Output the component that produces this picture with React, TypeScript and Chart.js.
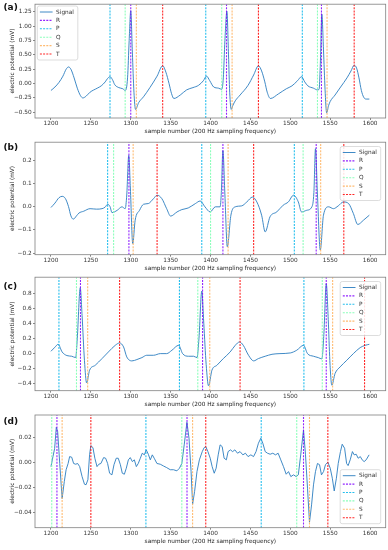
import React, { useEffect, useRef } from 'react';
import { Chart, registerables } from 'chart.js';

Chart.register(...registerables);

const FONT_FAMILY = "'DejaVu Sans', sans-serif";
const X_LABEL = 'sample number (200 Hz sampling frequency)';
const Y_LABEL = 'electric potential (mV)';
const xTickValues = [1200, 1250, 1300, 1350, 1400, 1450, 1500, 1550, 1600];
const markNames = ['R', 'P', 'Q', 'S', 'T'];
const markColors = ['rgba(128,0,255,0.85)', 'rgba(0,180,235,0.85)', 'rgba(128,255,180,0.9)', 'rgba(255,180,98,0.9)', 'rgba(255,0,0,0.85)'];
const signalColor = '#2a7dbf';

// ---------- panel (a) ----------
const aSamples = [1200, 1205, 1210, 1215, 1219, 1222, 1225, 1229, 1233, 1237, 1240, 1244, 1249, 1258, 1263, 1268, 1271, 1274, 1277, 1280, 1285, 1290, 1293, 1296, 1298, 1300, 1302, 1304, 1306, 1310, 1316, 1324, 1333, 1340, 1344, 1348, 1351, 1354, 1362, 1370, 1378, 1385, 1391, 1395, 1399, 1404, 1410, 1414, 1416, 1418, 1420.5, 1422.5, 1424, 1426, 1428, 1431, 1437, 1447, 1454, 1460, 1464, 1468, 1471, 1475, 1485, 1495, 1502, 1509, 1514, 1518, 1522, 1529, 1534, 1536, 1537.5, 1539.5, 1541.5, 1543.5, 1545.5, 1548, 1550, 1556, 1563, 1571, 1576, 1580, 1583, 1586, 1589, 1592, 1595, 1599];
const aSignal = [-0.12, -0.06, 0.02, 0.13, 0.25, 0.29, 0.25, 0.10, -0.08, -0.21, -0.25, -0.22, -0.15, -0.08, -0.04, 0.03, 0.09, 0.12, 0.07, -0.02, -0.07, -0.09, -0.12, 0.10, 0.75, 1.27, 0.55, -0.15, -0.45, -0.33, -0.23, -0.07, 0.13, 0.31, 0.2, 0.0, -0.17, -0.26, -0.2, -0.11, -0.07, -0.03, 0.05, 0.13, 0.05, -0.06, -0.08, -0.1, 0.1, 0.75, 1.26, 0.5, -0.15, -0.45, -0.38, -0.3, -0.2, -0.03, 0.15, 0.31, 0.22, 0.03, -0.15, -0.26, -0.18, -0.09, -0.04, 0.05, 0.12, 0.03, -0.04, -0.08, -0.11, -0.1, 0.3, 1.21, 0.6, -0.1, -0.51, -0.38, -0.31, -0.2, -0.06, 0.1, 0.22, 0.32, 0.27, 0.1, -0.12, -0.24, -0.27, -0.27];
const aR = [1300, 1420, 1539];
const aP = [1274, 1394, 1515];
const aQ = [1293, 1414, 1534];
const aS = [1307, 1427, 1546];
const aT = [1340, 1460, 1580];
const aYTicks = [-0.5, -0.25, 0, 0.25, 0.5, 0.75, 1.0, 1.25];

// ---------- panel (b) ----------
const bSamples = [1200, 1205, 1210, 1214, 1218, 1222, 1225, 1228, 1232, 1235, 1241, 1249, 1257, 1264, 1268, 1271, 1274, 1276.5, 1283, 1289, 1293, 1295, 1297.5, 1299.5, 1302.5, 1305.5, 1311, 1316, 1322, 1328.5, 1333, 1339, 1345, 1350, 1358, 1364, 1372, 1381, 1387, 1393, 1399.5, 1406, 1412, 1413.5, 1415.5, 1418, 1421, 1425.5, 1431, 1439, 1445.5, 1452.5, 1458, 1464, 1468.5, 1474.5, 1483, 1491, 1497.5, 1504, 1510, 1514, 1520.5, 1527, 1529.5, 1531.5, 1534, 1537.5, 1541.5, 1548, 1554, 1560, 1566.5, 1573, 1579, 1584.5, 1591.5, 1599];
const bSignal = [-0.004, 0.015, 0.038, 0.044, 0.035, 0.0, -0.04, -0.054, -0.04, -0.028, -0.02, -0.009, -0.011, -0.009, -0.002, 0.01, 0.0, -0.026, -0.016, -0.001, -0.009, 0.05, 0.22, 0.08, -0.159, -0.059, -0.016, 0.01, 0.013, 0.034, 0.049, 0.034, -0.009, -0.041, -0.023, -0.013, -0.006, 0.013, 0.024, -0.001, -0.023, -0.001, -0.001, 0.06, 0.241, 0.05, -0.173, -0.037, -0.001, 0.003, 0.02, 0.041, 0.02, -0.037, -0.109, -0.044, -0.023, 0.006, 0.02, 0.049, 0.02, -0.023, -0.016, -0.001, 0.06, 0.249, 0.05, -0.187, -0.037, -0.001, -0.009, 0.003, 0.02, 0.013, -0.03, -0.077, -0.059, -0.037];
const bR = [1297.7, 1415.5, 1532.4];
const bP = [1271, 1389, 1505];
const bQ = [1278.5, 1400, 1516];
const bS = [1303, 1422, 1538];
const bT = [1333, 1454, 1567];
const bYTicks = [-0.2, -0.1, 0, 0.1, 0.2];

// ---------- panel (c) ----------
const cSamples = [1200, 1205, 1209, 1214, 1220, 1226, 1231, 1233, 1236.7, 1239, 1242, 1244.7, 1248.4, 1255.5, 1264, 1272, 1280.6, 1286, 1291, 1295, 1301.5, 1307.7, 1314, 1320, 1328.6, 1337, 1345, 1351.6, 1360, 1365, 1372.4, 1378.7, 1383, 1385.5, 1389, 1391.5, 1394.5, 1397.5, 1401.7, 1408, 1416, 1424.6, 1431, 1436.3, 1441, 1447.6, 1454, 1460, 1468.5, 1477, 1487, 1500, 1508, 1516.5, 1521.5, 1529, 1535, 1539.5, 1542, 1545, 1547.5, 1549.5, 1552, 1556, 1562.4, 1570.8, 1579, 1587.5, 1594, 1599];
const cSignal = [0.025, 0.08, 0.118, 0.016, -0.032, -0.041, -0.059, 0.2, 0.871, 0.5, -0.1, -0.396, -0.228, -0.161, -0.072, 0.016, 0.105, 0.136, 0.083, -0.05, -0.103, -0.085, -0.059, -0.028, -0.028, -0.006, -0.006, 0.039, 0.105, -0.006, -0.041, -0.041, -0.059, 0.2, 0.827, 0.4, -0.15, -0.435, -0.228, -0.161, -0.072, 0.016, 0.105, 0.149, 0.105, -0.028, -0.103, -0.072, -0.041, -0.015, -0.006, 0.003, 0.039, 0.105, -0.006, -0.041, -0.059, -0.077, 0.25, 0.924, 0.45, -0.1, -0.427, -0.272, -0.183, -0.094, -0.006, 0.074, 0.105, 0.118];
const cR = [1237, 1390, 1545];
const cP = [1210, 1361, 1517];
const cQ = [1232, 1384, 1540];
const cS = [1246, 1399, 1553];
const cT = [1286, 1437, 1593];
const cYTicks = [-0.4, -0.2, 0, 0.2, 0.4, 0.6, 0.8];

// ---------- panel (d) ----------
const dSamples = [1200, 1202.5, 1204.6, 1206.7, 1208.4, 1211, 1214, 1216.7, 1219, 1221.5, 1223.4, 1226, 1228.4, 1231, 1233.4, 1236, 1239, 1242, 1244, 1246.3, 1248.4, 1250, 1252.6, 1255, 1257.7, 1260, 1262.6, 1266, 1268.5, 1271, 1273.5, 1276.4, 1279, 1281.8, 1284.3, 1287, 1289.4, 1292, 1294.4, 1297, 1299.4, 1302, 1304.5, 1307, 1309.4, 1312, 1314.4, 1317, 1319.4, 1322, 1324.5, 1327, 1329.4, 1332.8, 1337, 1341, 1345, 1349.5, 1353.6, 1357.8, 1361, 1364, 1367, 1370.4, 1373, 1375.6, 1377.5, 1380, 1383, 1386, 1389.6, 1392, 1394, 1396.7, 1399.6, 1402, 1404.6, 1407, 1409.6, 1412, 1414.6, 1417, 1419.8, 1422, 1425, 1427.6, 1430.5, 1433.8, 1437, 1440.5, 1443.7, 1447, 1450.5, 1453.9, 1457, 1460, 1463, 1465.5, 1468.5, 1471.4, 1474.7, 1478, 1481.4, 1484.7, 1488, 1491.4, 1494.8, 1497.7, 1500.6, 1504, 1507.3, 1510, 1513, 1516.5, 1519, 1521.5, 1524, 1526.6, 1529, 1531.5, 1534, 1536.6, 1539, 1541.6, 1544, 1547, 1550, 1552.6, 1555, 1557.7, 1560, 1562.8, 1565, 1568, 1570.5, 1572.4, 1575, 1577.8, 1580, 1582.5, 1585, 1587.7, 1590, 1592.5, 1595, 1598.7];
const dSignal = [-0.0035, 0.0045, 0.011, 0.028, 0.0245, -0.001, -0.029, -0.0155, -0.006, -0.001, 0.0045, 0.004, -0.001, -0.0016, -0.001, -0.0035, -0.0115, -0.0176, -0.018, -0.014, 0.006, 0.0133, 0.0117, 0.0032, -0.0035, -0.0016, -0.001, 0.0037, 0.0032, -0.001, -0.0088, -0.0101, -0.002, 0.0032, 0.0032, -0.002, -0.0088, -0.0096, -0.0048, 0.0019, 0.0037, 0.0005, 0.0019, -0.0035, -0.001, 0.0032, 0.0072, 0.0059, 0.0099, 0.0064, 0.0019, 0.0059, 0.0032, -0.001, -0.0016, -0.003, -0.0043, -0.006, -0.006, -0.0069, -0.0048, -0.001, 0.0139, 0.032, 0.0192, -0.0075, -0.0336, -0.0235, -0.0075, 0.0019, 0.0085, 0.0117, 0.0125, 0.0085, 0.0032, -0.0035, -0.0088, -0.0048, 0.0059, 0.0139, 0.0125, 0.0032, 0.0019, 0.0085, 0.0099, 0.0085, 0.0099, 0.0072, 0.0085, 0.0059, 0.0072, 0.0045, 0.0059, 0.0045, 0.0085, 0.0152, 0.0192, 0.0152, 0.0085, 0.0072, 0.0064, 0.0072, 0.0059, 0.0072, 0.0019, -0.0035, -0.0096, -0.0075, -0.0115, -0.0101, -0.0115, -0.0101, 0.0059, 0.0259, 0.0059, -0.0208, -0.048, -0.0341, -0.0181, -0.0075, -0.001, -0.002, -0.0101, -0.0075, -0.002, 0.0, -0.0048, -0.0128, -0.023, -0.0128, -0.001, 0.0085, 0.0144, 0.0112, -0.001, -0.0027, 0.0019, 0.0085, 0.0059, 0.0064, 0.0032, 0.0045, 0.0019, 0.0005, 0.0019, 0.0059];
const dR = [1207.5, 1370.5, 1516.5];
const dP = [1319, 1463.5];
const dQ = [1201, 1364, 1508];
const dS = [1214, 1377.5, 1524];
const dT = [1250, 1394, 1547];
const dYTicks = [-0.04, -0.02, 0, 0.02];

type LegendPos = 'ul' | 'ur' | 'lr';
type PanelCfg = {
  tag: string; tagY: number;
  top: number; height: number; frameTop: number; frameBottom: number;
  xs: number[]; ys: number[]; marks: number[][];
  yMin: number; yMax: number; yTicks: number[]; decimals: number;
  legend: LegendPos; smooth: boolean;
};

const panels: PanelCfg[] = [
  { tag: '(a)', tagY: 7.5, top: 0, height: 138, frameTop: 4, frameBottom: 118, xs: aSamples, ys: aSignal, marks: [aR, aP, aQ, aS, aT], yMin: -0.6, yMax: 1.384, yTicks: aYTicks, decimals: 2, legend: 'ul', smooth: true },
  { tag: '(b)', tagY: 148, top: 138, height: 135, frameTop: 141.7, frameBottom: 254.7, xs: bSamples, ys: bSignal, marks: [bR, bP, bQ, bS, bT], yMin: -0.207, yMax: 0.277, yTicks: bYTicks, decimals: 1, legend: 'ur', smooth: true },
  { tag: '(c)', tagY: 286.5, top: 273, height: 135, frameTop: 276.7, frameBottom: 390.7, xs: cSamples, ys: cSignal, marks: [cR, cP, cQ, cS, cT], yMin: -0.5, yMax: 1.012, yTicks: cYTicks, decimals: 1, legend: 'ur', smooth: true },
  { tag: '(d)', tagY: 421.5, top: 408, height: 142, frameTop: 415, frameBottom: 527.7, xs: dSamples, ys: dSignal, marks: [dR, dP, dQ, dS, dT], yMin: -0.0524, yMax: 0.0378, yTicks: dYTicks, decimals: 2, legend: 'lr', smooth: false },
];

const SMALL = 5.8;
const DASH = [2, 1.2];

function makeDecor(cfg: PanelCfg) {
  return {
    id: 'decor',
    afterDatasetsDraw(chart: any) {
      const { ctx, chartArea: a } = chart;
      ctx.save();
      // frame
      ctx.strokeStyle = '#808080';
      ctx.lineWidth = 0.8;
      ctx.strokeRect(a.left, a.top, a.right - a.left, a.bottom - a.top);
      // legend
      const w = 40.5, h = 54;
      let bx: number, by: number;
      if (cfg.legend === 'ul') { bx = a.left + 2.3; by = a.top + 1.8; }
      else if (cfg.legend === 'ur') { bx = a.right - 5 - w; by = a.top + 4.3; }
      else { bx = a.right - 5 - w; by = a.bottom - 4 - h; }
      ctx.fillStyle = 'rgba(255,255,255,0.85)';
      ctx.strokeStyle = '#d4d4d4';
      ctx.lineWidth = 0.8;
      ctx.beginPath();
      (ctx as any).roundRect(bx, by, w, h, 2);
      ctx.fill();
      ctx.stroke();
      const items = [{ label: 'Signal', color: signalColor, dash: [] as number[] }].concat(
        markNames.map((n, k) => ({ label: n, color: markColors[k], dash: DASH }))
      );
      ctx.font = `${SMALL}px ${FONT_FAMILY}`;
      ctx.textBaseline = 'middle';
      ctx.textAlign = 'left';
      items.forEach((it, i) => {
        const y = by + 6 + i * 8.4;
        ctx.setLineDash(it.dash);
        ctx.strokeStyle = it.color;
        ctx.lineWidth = it.dash.length ? 1.1 : 0.9;
        ctx.beginPath();
        ctx.moveTo(bx + 2.6, y);
        ctx.lineTo(bx + 15.3, y);
        ctx.stroke();
        ctx.setLineDash([]);
        ctx.fillStyle = '#333';
        ctx.fillText(it.label, bx + 18.8, y);
      });
      ctx.restore();
    },
    afterDraw(chart: any) {
      const { ctx } = chart;
      ctx.save();
      ctx.font = `bold 9px ${FONT_FAMILY}`;
      ctx.fillStyle = '#111';
      ctx.textBaseline = 'middle';
      ctx.textAlign = 'left';
      ctx.fillText(cfg.tag, 3.5, cfg.tagY - cfg.top);
      ctx.restore();
    },
  };
}

function Panel({ cfg }: { cfg: PanelCfg }) {
  const ref = useRef<HTMLCanvasElement>(null);
  useEffect(() => {
    const canvas = ref.current;
    if (!canvas) return;
    const axisH = cfg.top + cfg.height - cfg.frameBottom;
    const lh = SMALL * 1.2;
    const xLabelCenter = cfg.frameBottom + 13.7;
    const titlePadBottom = cfg.top + cfg.height - xLabelCenter - lh / 2;
    const tickFont = { family: FONT_FAMILY, size: SMALL, lineHeight: 1 };
    const labelFont = { family: FONT_FAMILY, size: SMALL, lineHeight: 1.2 };
    const gridOpts = { display: true, drawOnChartArea: false, drawTicks: true, tickLength: 2, tickColor: '#555', tickWidth: 0.7 };
    const datasets: any[] = [
      {
        label: 'Signal',
        data: cfg.xs.map((x, i) => ({ x, y: cfg.ys[i] })),
        borderColor: signalColor,
        borderWidth: 0.9,
        pointRadius: 0,
        fill: false,
        cubicInterpolationMode: cfg.smooth ? 'monotone' : 'default',
        tension: 0,
        order: 10,
      },
      ...markNames.map((name, k) => ({
        label: name,
        data: cfg.marks[k].flatMap((x) => [{ x, y: cfg.yMin }, { x, y: cfg.yMax }, { x, y: null }]),
        borderColor: markColors[k],
        borderWidth: 1.1,
        borderDash: DASH,
        pointRadius: 0,
        fill: false,
        spanGaps: false,
        order: 9 - k,
      })),
    ];
    const chart = new Chart(canvas, {
      type: 'line',
      data: { datasets },
      options: {
        responsive: false,
        animation: false,
        events: [],
        layout: { padding: { top: cfg.frameTop - cfg.top, right: 2.3, left: 0, bottom: 0 } },
        plugins: { legend: { display: false }, tooltip: { enabled: false } },
        scales: {
          x: {
            type: 'linear',
            min: 1180,
            max: 1619.5,
            afterBuildTicks: (s: any) => { s.ticks = xTickValues.map((v) => ({ value: v })); },
            afterFit: (s: any) => { s.height = axisH; },
            ticks: { font: tickFont, color: '#333', padding: 0.5, maxRotation: 0, autoSkip: false, callback: (v: any) => String(v) },
            grid: gridOpts,
            border: { display: false },
            title: { display: true, text: X_LABEL, font: labelFont, color: '#222', padding: { top: 0, bottom: titlePadBottom } },
          },
          y: {
            type: 'linear',
            min: cfg.yMin,
            max: cfg.yMax,
            afterBuildTicks: (s: any) => { s.ticks = cfg.yTicks.map((v) => ({ value: v })); },
            afterFit: (s: any) => { s.width = 35; },
            ticks: {
              font: tickFont, color: '#333', padding: 1.3, autoSkip: false,
              callback: (v: any) => Number(v).toFixed(cfg.decimals).replace('-', '\u2212'),
            },
            grid: gridOpts,
            border: { display: false },
            title: { display: true, text: Y_LABEL, font: labelFont, color: '#222', padding: { top: 9, bottom: 0 } },
          },
        },
      },
      plugins: [makeDecor(cfg)],
    } as any);
    return () => chart.destroy();
  }, [cfg]);
  return (
    <div style={{ position: 'absolute', left: 0, top: cfg.top, width: 388, height: cfg.height }}>
      <canvas ref={ref} width={388} height={cfg.height} style={{ display: 'block' }} />
    </div>
  );
}

export default function App() {
  return (
    <div style={{ position: 'absolute', left: 0, top: 0, width: 388, height: 550, background: '#fff', overflow: 'hidden' }}>
      {panels.map((p) => (
        <Panel key={p.tag} cfg={p} />
      ))}
    </div>
  );
}
